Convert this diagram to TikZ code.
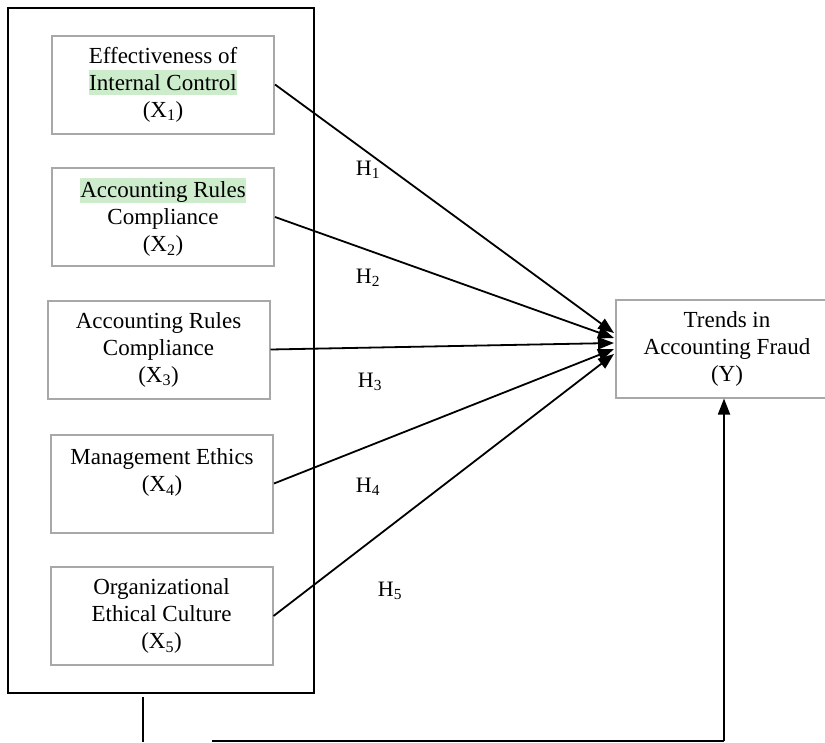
\documentclass[tikz,border=0pt]{standalone}
\usepackage{fontspec}
\setmainfont{Liberation Serif}
\usetikzlibrary{arrows.meta}
\definecolor{hl}{RGB}{204,236,204}
\definecolor{boxgray}{RGB}{168,168,168}
\newcommand{\hlbox}[1]{{\setlength{\fboxsep}{0pt}\colorbox{hl}{\rule[-5pt]{0pt}{25pt}#1}}}
\tikzset{
  varbox/.style={draw=boxgray, line width=2pt, minimum width=222pt, minimum height=98pt,
    align=center, inner sep=0pt, font=\fontsize{23}{27}\selectfont},
  hlink/.style={line width=1.8pt, -{Triangle[length=16pt,width=12pt]}},
  hlabel/.style={font=\fontsize{22}{27}\selectfont, inner sep=0pt}
}
\begin{document}
\begin{tikzpicture}[x=1pt,y=-1pt]
\useasboundingbox (0,0) rectangle (825,742);
% outer frame
\node[draw=black, line width=2.5pt, minimum width=306pt, minimum height=685pt, inner sep=0pt] (outer) at (161,350.5) {};
% variable boxes
\node[varbox] (x1) at (163,84.5) {Effectiveness of\\\hlbox{Internal Control}\\(X\textsubscript{1})};
\node[varbox] (x2) at (163,217) {\hlbox{Accounting Rules}\\Compliance\\(X\textsubscript{2})};
\node[varbox] (x3) at (158.5,349.5) {Accounting Rules\\Compliance\\(X\textsubscript{3})};
\node[varbox] (x4) at (162,483.5) {Management Ethics\\(X\textsubscript{4})\\\mbox{}};
\node[varbox] (x5) at (161.5,616) {Organizational\\Ethical Culture\\(X\textsubscript{5})};
% dependent variable
\node[varbox] (y) at (727,348.5) {Trends in\\Accounting Fraud\\(Y)};
% arrow end points
\coordinate (t1) at (614,333);
\coordinate (t2) at (614,338);
\coordinate (t3) at (614,343);
\coordinate (t4) at (614,349);
\coordinate (t5) at (614,354);
\draw[hlink] (x1.east) -- (t1);
\draw[hlink] (x2.east) -- (t2);
\draw[hlink] (x3.east) -- (t3);
\draw[hlink] (x4.east) -- (t4);
\draw[hlink] (x5.east) -- (t5);
% hypothesis labels
\node[hlabel] (h1) at (368,170) {H\textsubscript{1}};
\node[hlabel] (h2) at (368,278) {H\textsubscript{2}};
\node[hlabel] (h3) at (370,382) {H\textsubscript{3}};
\node[hlabel] (h4) at (368,487) {H\textsubscript{4}};
\node[hlabel] (h5) at (390,591) {H\textsubscript{5}};
% bottom connector
\coordinate (b1) at (143,697);
\coordinate (b2) at (143,742);
\coordinate (c1) at (212,740.5);
\coordinate (c2) at (724,740.5);
\draw[line width=2pt] (b1) -- (b2);
\draw[line width=2pt] (c1) -- (c2);
\draw[hlink] (c2) -- (c2 |- y.south);
\end{tikzpicture}
\end{document}
